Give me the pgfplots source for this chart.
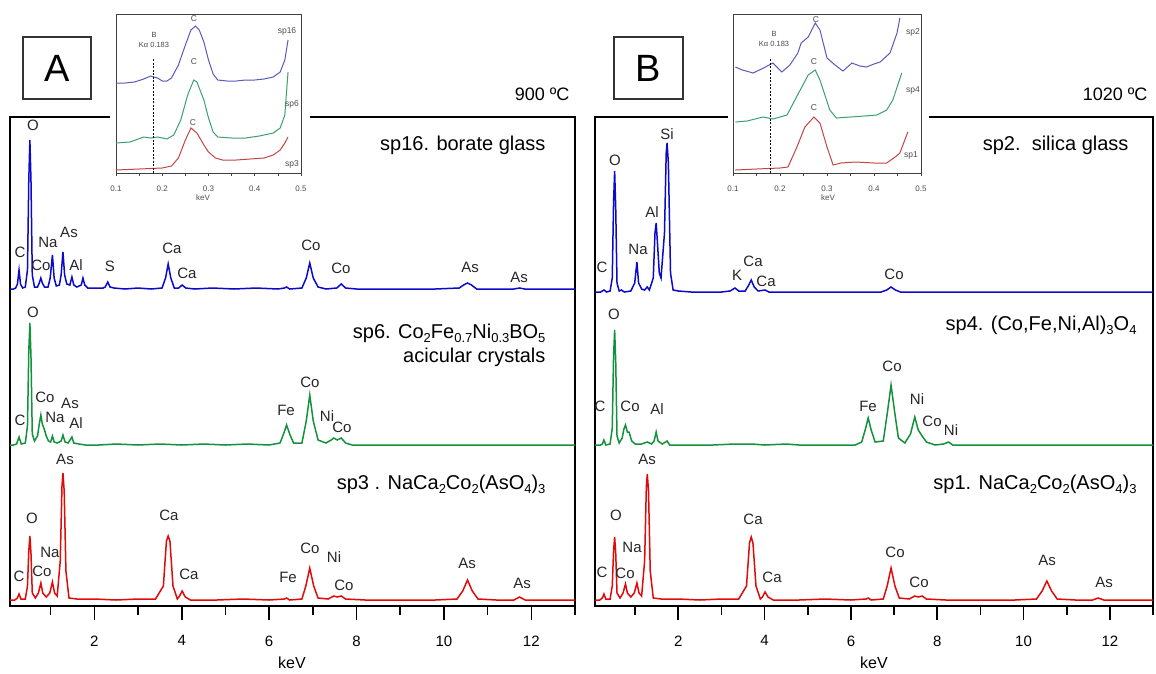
\documentclass[border=0pt]{standalone}
\usepackage{fontspec}
\setmainfont{Liberation Sans}
\usepackage{pgfplots}
\pgfplotsset{compat=1.18}
\definecolor{cblue}{RGB}{10,10,200}
\definecolor{cgreen}{RGB}{20,145,60}
\definecolor{cred}{RGB}{225,10,10}
\definecolor{iblue}{RGB}{90,90,185}
\definecolor{igreen}{RGB}{60,160,110}
\definecolor{ired}{RGB}{195,70,70}
\newcommand\sub[1]{\raisebox{-0.4ex}{\fontsize{13}{13}\selectfont #1}}
\newcommand\el{\fontsize{15}{17}\selectfont}
\newcommand\bigt{\fontsize{20}{23}\selectfont}
\pgfplotsset{
 mainax/.style={width=565pt,height=489pt,scale only axis,
  xmin=0.07,xmax=13,ymin=0,ymax=489,
  axis line style={line width=2pt},
  xtick={2,4,6,8,10,12}, minor xtick={1,3,5,7,9,11,13},
  tick align=outside, xtick pos=bottom, ytick=\empty,
  major tick length=14pt, minor tick length=9pt,
  every tick/.style={black,line width=1.6pt},
  /pgf/number format/assume math mode=true,
  xticklabel style={font=\el, yshift=-12pt},
  clip=false},
 inax/.style={width=185pt,height=159pt,scale only axis,
  xmin=0.1,xmax=0.5,ymin=0,ymax=159,
  axis background/.style={fill=white},
  axis line style={line width=0.9pt,black!75},
  xtick={0.1,0.2,0.3,0.4,0.5}, minor xtick={0.15,0.25,0.35,0.45},
  tick align=outside, xtick pos=bottom, ytick=\empty,
  major tick length=3pt, minor tick length=2.5pt,
  every tick/.style={black!75,line width=0.6pt},
  /pgf/number format/assume math mode=true,
  /pgf/number format/fixed,/pgf/number format/precision=1,
  xticklabel style={font=\fontsize{8}{9}\selectfont, text=black!70, yshift=-6pt},
  clip=false},
}
\begin{document}
\begin{tikzpicture}[x=1pt,y=1pt]
\path[use as bounding box] (0,0) rectangle (1156,-673);

% ================= PANEL A =================
\begin{axis}[mainax, at={(10pt,-606pt)}, anchor=south west]
% sp16 borate glass (offset 316)
\addplot[cblue, line width=1.5pt] table[y expr=\thisrow{y}+316] {
x y
0.07 1
0.15 1
0.20 2
0.24 6
0.277 20
0.31 6
0.36 2
0.42 3
0.47 20
0.50 110
0.525 150
0.55 110
0.58 15
0.63 3
0.70 3
0.74 7
0.776 12
0.81 7
0.86 3
0.94 3
0.99 12
1.041 35
1.08 12
1.13 4
1.20 5
1.24 15
1.282 38
1.32 15
1.37 6
1.44 5
1.487 13
1.53 5
1.60 3
1.70 5
1.74 12
1.78 5
1.85 2
2.0 2
2.2 2
2.25 3
2.307 8
2.36 3
2.45 2
2.7 1
3.0 2
3.3 1
3.55 2
3.63 12
3.69 26
3.75 12
3.83 2
3.93 2
4.01 5
4.09 2
4.3 1
4.7 2
5.2 1
5.7 2
6.2 1
6.35 2
6.40 3
6.47 1
6.75 2
6.85 12
6.93 27
7.01 12
7.12 3
7.3 1
7.55 2
7.65 6
7.75 2
8.0 1
8.6 1
9.2 1
9.8 1
10.35 2
10.45 5
10.54 7
10.63 5
10.75 1
11.2 1
11.6 1
11.73 2
11.85 1
12.4 1
13.0 1
};
% sp6 (offset 160)
\addplot[cgreen, line width=1.5pt] table[y expr=\thisrow{y}+160] {
x y
0.07 1
0.15 1
0.22 2
0.277 9
0.33 2
0.42 3
0.47 20
0.50 95
0.525 123
0.55 90
0.58 12
0.63 5
0.70 10
0.74 22
0.776 31
0.81 22
0.86 16
0.90 10
0.95 5
1.0 4
1.041 10
1.08 4
1.15 3
1.24 5
1.282 11
1.33 4
1.40 3
1.487 9
1.53 3
1.65 2
1.8 1
2.1 1
2.5 2
3.0 1
3.5 2
4.0 1
4.5 2
5.0 1
5.5 2
6.0 1
6.25 3
6.33 12
6.40 21
6.47 12
6.56 3
6.75 3
6.85 25
6.93 51
7.01 25
7.12 6
7.3 3
7.42 6
7.48 8
7.56 6
7.65 8
7.75 3
7.9 1
8.3 1
9.0 1
9.8 1
10.5 1
11.3 1
12.2 1
13.0 1
};
% sp3 (offset 5)
\addplot[cred, line width=1.5pt] table[y expr=\thisrow{y}+5] {
x y
0.07 1
0.18 1
0.24 3
0.277 7
0.32 2
0.42 2
0.47 15
0.50 50
0.525 65
0.55 48
0.58 8
0.65 3
0.72 8
0.776 18
0.82 8
0.90 4
0.98 8
1.041 19
1.09 8
1.15 5
1.22 40
1.26 115
1.282 128
1.31 110
1.35 30
1.42 3
1.6 2
2.0 2
2.5 1
3.0 2
3.4 2
3.58 15
3.65 60
3.69 65
3.73 60
3.80 15
3.90 2
3.95 5
4.01 10
4.08 4
4.2 1
4.8 1
5.4 2
6.0 1
6.35 2
6.40 3
6.47 1
6.75 2
6.84 15
6.93 33
7.02 15
7.12 3
7.35 2
7.48 5
7.56 4
7.65 5
7.75 2
8.2 1
9.0 1
9.8 1
10.3 2
10.43 10
10.54 21
10.65 10
10.78 2
11.2 1
11.6 1
11.73 4
11.86 1
12.4 1
13.0 1
};
\end{axis}

% ================= PANEL B =================
\begin{axis}[mainax, width=558pt, at={(595pt,-606pt)}, anchor=south west]
% sp2 silica glass (offset 313)
\addplot[cblue, line width=1.5pt] table[y expr=\thisrow{y}+313] {
x y
0.07 1
0.2 1
0.277 3
0.34 1
0.42 2
0.47 15
0.50 90
0.525 122
0.55 85
0.58 10
0.63 2
0.68 3
0.75 1
0.9 2
0.99 10
1.041 31
1.08 10
1.15 4
1.22 3
1.28 6
1.33 3
1.42 15
1.46 60
1.487 70
1.51 55
1.56 20
1.60 15
1.68 60
1.72 140
1.74 150
1.77 130
1.82 20
1.88 3
2.0 2
2.3 1
2.6 1
3.0 1
3.2 2
3.313 5
3.40 2
3.55 2
3.62 7
3.69 13
3.76 6
3.85 2
4.01 3
4.1 1
4.6 1
5.3 1
6.0 1
6.7 1
6.83 3
6.93 6
7.03 3
7.15 1
8.0 1
9.0 1
10.0 1
11.0 1
12.0 1
13.0 1
};
% sp4 (offset 160)
\addplot[cgreen, line width=1.5pt] table[y expr=\thisrow{y}+160] {
x y
0.07 1
0.2 1
0.24 2
0.277 6
0.32 1
0.42 2
0.47 18
0.50 90
0.525 116
0.55 85
0.58 10
0.63 3
0.70 8
0.74 17
0.776 21
0.82 14
0.86 14
0.92 5
1.0 2
1.15 2
1.28 4
1.38 2
1.44 5
1.487 14
1.53 5
1.63 2
1.74 5
1.80 1
2.2 1
2.8 1
3.3 2
3.7 2
4.0 1
4.5 2
4.8 1
5.5 1
6.1 1
6.25 4
6.33 16
6.40 28
6.47 16
6.56 4
6.75 5
6.85 35
6.93 61
7.01 35
7.10 8
7.25 3
7.38 12
7.48 29
7.56 16
7.65 10
7.75 4
7.95 1
8.15 2
8.26 4
8.36 1
9.0 1
10.0 1
11.0 1
12.0 1
13.0 1
};
% sp1 (offset 5)
\addplot[cred, line width=1.5pt] table[y expr=\thisrow{y}+5] {
x y
0.07 1
0.18 1
0.24 3
0.277 7
0.32 2
0.42 2
0.47 15
0.50 50
0.525 64
0.55 48
0.58 8
0.65 3
0.72 8
0.776 17
0.82 8
0.90 4
0.98 8
1.041 18
1.09 8
1.15 5
1.22 40
1.26 115
1.282 127
1.31 110
1.35 30
1.42 3
1.6 2
2.0 2
2.5 1
3.0 2
3.4 2
3.58 15
3.65 58
3.69 64
3.73 58
3.80 15
3.90 2
3.95 4
4.01 9
4.08 4
4.2 1
4.8 1
5.4 2
6.0 1
6.35 2
6.40 3
6.47 1
6.75 2
6.84 15
6.93 33
7.02 15
7.12 3
7.35 2
7.48 5
7.56 4
7.65 5
7.75 2
8.2 1
9.0 1
9.8 1
10.3 2
10.43 10
10.54 20
10.65 10
10.78 2
11.2 1
11.6 1
11.73 3
11.86 1
12.4 1
13.0 1
};
\end{axis}

% white margins of insets (cover frame line)
\fill[white] (110,-4) rectangle (310,-206);
\fill[white] (728,-4) rectangle (929,-206);

% ================= INSET A =================
\begin{axis}[inax, at={(116pt,-173pt)}, anchor=south west]
\addplot[iblue, line width=1pt] table {
x y
0.10 90
0.12 90
0.14 91
0.16 94
0.175 97
0.19 95
0.20 92
0.21 92
0.22 95
0.235 108
0.25 128
0.262 143
0.272 147
0.28 143
0.29 131
0.30 113
0.31 99
0.32 93
0.34 92
0.36 92
0.38 93
0.40 93
0.42 94
0.44 96
0.455 101
0.465 113
0.472 133
};
\addplot[igreen, line width=1pt] table {
x y
0.10 30
0.13 31
0.16 36
0.175 35
0.19 36
0.21 34
0.225 38
0.24 53
0.255 78
0.268 93
0.275 91
0.29 73
0.30 55
0.31 41
0.32 36
0.35 35
0.38 35
0.41 37
0.44 40
0.455 45
0.465 58
0.472 101
};
\addplot[ired, line width=1pt] table {
x y
0.10 3
0.15 4
0.20 5
0.22 7
0.235 15
0.25 33
0.262 45
0.275 40
0.29 28
0.30 21
0.315 15
0.33 13
0.36 13
0.39 14
0.42 15
0.44 18
0.455 23
0.465 30
0.472 36
};
\draw[black, line width=0.8pt, dash pattern=on 2pt off 1.5pt] (axis cs:0.18,0) -- (axis cs:0.18,115);
\end{axis}

% ================= INSET B =================
\begin{axis}[inax, width=188pt, at={(733pt,-173pt)}, anchor=south west]
\addplot[iblue, line width=1pt] table {
x y
0.105 106
0.12 103
0.143 100
0.165 105
0.185 110
0.204 101
0.221 108
0.238 120
0.245 130
0.26 136
0.275 150
0.285 143
0.30 115
0.317 108
0.334 102
0.353 110
0.37 107
0.384 106
0.40 109
0.413 111
0.434 120
0.449 140
0.455 155
};
\addplot[igreen, line width=1pt] table {
x y
0.105 51
0.13 52
0.164 56
0.185 54
0.215 58
0.243 83
0.26 98
0.275 103
0.285 93
0.306 63
0.32 55
0.35 56
0.38 57
0.406 58
0.427 63
0.44 73
0.459 100
};
\addplot[ired, line width=1pt] table {
x y
0.105 3
0.15 4
0.20 5
0.217 6
0.236 26
0.253 46
0.272 56
0.285 50
0.30 26
0.313 8
0.33 10
0.36 11
0.40 10
0.427 10
0.445 16
0.455 20
0.472 41
};
\draw[black, line width=0.8pt, dash pattern=on 2pt off 1.5pt] (axis cs:0.18,0) -- (axis cs:0.18,115);
\end{axis}

% ---------- inset texts ----------
\begin{scope}[every node/.style={text=black!70, inner sep=0pt}]
\node[font=\fontsize{8}{9}\selectfont] at (203,-198) {keV};
\node[font=\fontsize{8}{9}\selectfont] at (828,-198) {keV};
\node[font=\fontsize{8.5}{9}\selectfont] at (194,-19) {C};
\node[font=\fontsize{8.5}{9}\selectfont] at (194,-62) {C};
\node[font=\fontsize{8.5}{9}\selectfont] at (193,-123) {C};
\node[font=\fontsize{8.5}{9}\selectfont] at (287,-31) {sp16};
\node[font=\fontsize{8.5}{9}\selectfont] at (292,-104) {sp6};
\node[font=\fontsize{8.5}{9}\selectfont] at (292,-164) {sp3};
\node[font=\fontsize{7.5}{8}\selectfont] at (154,-35) {B};
\node[font=\fontsize{7.5}{8}\selectfont] at (154,-45) {Kα 0.183};
\node[font=\fontsize{8.5}{9}\selectfont] at (816,-20) {C};
\node[font=\fontsize{8.5}{9}\selectfont] at (814,-62) {C};
\node[font=\fontsize{8.5}{9}\selectfont] at (814,-108) {C};
\node[font=\fontsize{8.5}{9}\selectfont] at (913,-32) {sp2};
\node[font=\fontsize{8.5}{9}\selectfont] at (913,-90) {sp4};
\node[font=\fontsize{8.5}{9}\selectfont] at (911,-155) {sp1};
\node[font=\fontsize{7.5}{8}\selectfont] at (774,-34) {B};
\node[font=\fontsize{7.5}{8}\selectfont] at (774,-44) {Kα 0.183};
\end{scope}

% ---------- panel boxes and temperatures ----------
\draw[black!80, line width=1.2pt] (23,-37) rectangle (91,-99);
\node[font=\fontsize{38}{40}\selectfont] at (57,-68) {A};
\draw[black!80, line width=1.2pt] (614,-37) rectangle (683,-99);
\node[font=\fontsize{38}{40}\selectfont] at (648.5,-68) {B};
\node[anchor=east, font=\fontsize{18}{20}\selectfont] at (573,-94) {900 ºC};
\node[anchor=east, font=\fontsize{18}{20}\selectfont] at (1151,-94) {1020 ºC};
\node[font=\fontsize{16}{18}\selectfont] at (292,-663) {keV};
\node[font=\fontsize{16}{18}\selectfont] at (874,-663) {keV};

% ---------- spectrum titles ----------
\node[anchor=east, font=\bigt] at (549,-145) {sp16. borate glass};
\node[anchor=east, font=\bigt] at (549,-333) {sp6. Co\sub{2}Fe\sub{0.7}Ni\sub{0.3}BO\sub{5}};
\node[anchor=east, font=\bigt] at (549,-357) {acicular crystals};
\node[anchor=east, font=\bigt] at (549,-484) {sp3 . NaCa\sub{2}Co\sub{2}(AsO\sub{4})\sub{3}};
\node[anchor=east, font=\bigt] at (1132,-145) {sp2.\ \ silica glass};
\node[anchor=east, font=\bigt] at (1140,-325) {sp4. (Co,Fe,Ni,Al)\sub{3}O\sub{4}};
\node[anchor=east, font=\bigt] at (1140,-484) {sp1. NaCa\sub{2}Co\sub{2}(AsO\sub{4})\sub{3}};

% ---------- element labels ----------
\begin{scope}[every node/.style={font=\el, text=black!85, inner sep=0pt}]
% sp16
\node at (20,-252) {C}; \node at (33,-125) {O}; \node at (48,-242) {Na};
\node at (69,-232) {As}; \node at (41,-265) {Co}; \node at (76,-265) {Al};
\node at (110,-266) {S}; \node at (172,-248) {Ca}; \node at (187,-273) {Ca};
\node at (311,-245) {Co}; \node at (341,-268) {Co}; \node at (470,-267) {As};
\node at (519,-277) {As};
% sp6
\node at (20,-420) {C}; \node at (33,-312) {O}; \node at (45,-397) {Co};
\node at (55,-417) {Na}; \node at (70,-403) {As}; \node at (76,-423) {Al};
\node at (286,-410) {Fe}; \node at (310,-382) {Co}; \node at (327,-416) {Ni};
\node at (342,-427) {Co};
% sp3
\node at (65,-459) {As}; \node at (32,-518) {O}; \node at (50,-552) {Na};
\node at (19,-576) {C}; \node at (42,-571) {Co}; \node at (169,-515) {Ca};
\node at (189,-574) {Ca}; \node at (288,-577) {Fe}; \node at (310,-548) {Co};
\node at (334,-557) {Ni}; \node at (344,-585) {Co}; \node at (467,-563) {As};
\node at (522,-583) {As};
% sp2
\node at (602,-267) {C}; \node at (615,-160) {O}; \node at (638,-249) {Na};
\node at (652,-212) {Al}; \node at (667,-134) {Si}; \node at (737,-275) {K};
\node at (753,-261) {Ca}; \node at (766,-281) {Ca}; \node at (894,-274) {Co};
% sp4
\node at (600,-406) {C}; \node at (614,-314) {O}; \node at (630,-406) {Co};
\node at (657,-409) {Al}; \node at (868,-406) {Fe}; \node at (892,-366) {Co};
\node at (917,-399) {Ni}; \node at (932,-421) {Co}; \node at (951,-430) {Ni};
% sp1
\node at (647,-459) {As}; \node at (616,-515) {O}; \node at (632,-547) {Na};
\node at (602,-572) {C}; \node at (625,-573) {Co}; \node at (753,-519) {Ca};
\node at (772,-577) {Ca}; \node at (895,-552) {Co}; \node at (919,-582) {Co};
\node at (1047,-560) {As}; \node at (1104,-582) {As};
\end{scope}
\end{tikzpicture}
\end{document}
